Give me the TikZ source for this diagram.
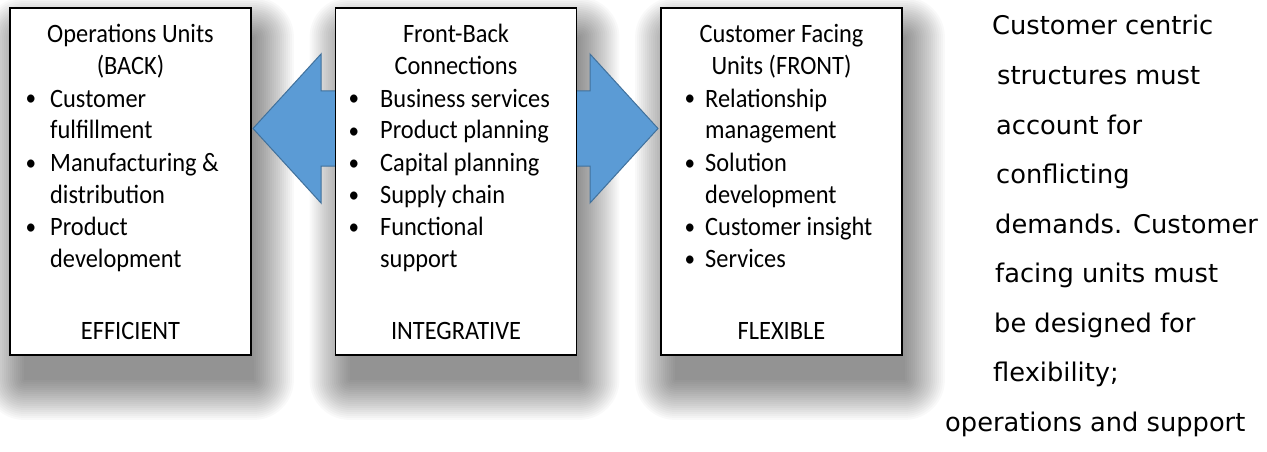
\documentclass[tikz,border=0pt]{standalone}
\usepackage{fontspec}
\setmainfont{Carlito}[FakeStretch=0.92]
\newfontfamily\notefont{DejaVu Sans}
\usetikzlibrary{calc}
\pgfdeclarelayer{paper}
\pgfdeclarelayer{shade}
\pgfdeclarelayer{arrowlayer}
\pgfsetlayers{paper,shade,arrowlayer,main}
\definecolor{arrowfill}{HTML}{5B9BD5}
\definecolor{arrowline}{HTML}{41719C}

\begin{document}
\begin{tikzpicture}[x=1pt,y=-1pt,
  unitbox/.style={draw=black, line width=1.8pt, fill=white, inner sep=0pt,
    minimum width=241pt, minimum height=347pt},
  titletext/.style={font=\fontsize{26.5}{32}\selectfont, anchor=base, inner sep=0pt},
  itemtext/.style={font=\fontsize{26.5}{32}\selectfont, anchor=base west, inner sep=0pt},
  bulletmark/.style={font=\fontsize{23}{32}\selectfont, anchor=base, inner sep=0pt},
  notetext/.style={font=\notefont\fontsize{25.7}{32}\selectfont, anchor=base west, inner sep=0pt},
  bigarrow/.style={fill=arrowfill, draw=arrowline, line width=1pt, line join=miter}]

\useasboundingbox (0,0) rectangle (1267,452);
\begin{pgfonlayer}{paper}
\fill[white] (0,0) rectangle (1267,452);
\end{pgfonlayer}

% the three unit boxes
\node[unitbox] (back)  at (130.5,181.5) {};
\node[unitbox] (link)  at (456,181.5) {};
\node[unitbox] (front) at (781.5,181.5) {};

% soft drop shadows behind the boxes
\begin{pgfonlayer}{shade}
\foreach \b in {back,link,front}{
  \foreach \d in {0,2,...,40}{
    \fill[black, opacity=0.022, rounded corners=\d pt]
      ([shift={(15-\d,30-\d)}]\b.north west) rectangle ([shift={(2+\d,24+\d)}]\b.south east);
  }
}
\end{pgfonlayer}

% double-headed block arrow running behind the middle box
\begin{pgfonlayer}{arrowlayer}
\draw[bigarrow] (253,128.5) -- (321,54) -- (321,91) -- (590,91) -- (590,54)
  -- (658,128.5) -- (590,203) -- (590,166) -- (321,166) -- (321,203) -- cycle;
\end{pgfonlayer}

% Operations Units (BACK)
\node[titletext] (back-h1) at (130.5,43) {Operations Units};
\node[titletext] (back-h2) at (130.5,75) {(BACK)};
\foreach \t [count=\k] in {Customer,fulfillment,Manufacturing \&,distribution,Product,development}
  \node[itemtext] (back-i\k) at ({50},{75+32*\k}) {\t};
\foreach \k in {1,3,5}
  \node[bulletmark] (back-b\k) at ({31},{74+32*\k}) {\textbullet};
\node[titletext] (back-f) at (130.5,339) {EFFICIENT};

% Front-Back Connections
\node[titletext] (link-h1) at (456,43) {Front-Back};
\node[titletext] (link-h2) at (456,75) {Connections};
\foreach \t [count=\k] in {Business services,Product planning,Capital planning,Supply chain,Functional,support}
  \node[itemtext] (link-i\k) at ({380},{75+32*\k}) {\t};
\foreach \k in {1,...,5}
  \node[bulletmark] (link-b\k) at ({354},{74+32*\k}) {\textbullet};
\node[titletext] (link-f) at (456,339) {INTEGRATIVE};

% Customer Facing Units (FRONT)
\node[titletext] (front-h1) at (781.5,43) {Customer Facing};
\node[titletext] (front-h2) at (781.5,75) {Units (FRONT)};
\foreach \t [count=\k] in {Relationship,management,Solution,development,Customer insight,Services}
  \node[itemtext] (front-i\k) at ({705},{75+32*\k}) {\t};
\foreach \k in {1,3,5,6}
  \node[bulletmark] (front-b\k) at ({690},{74+32*\k}) {\textbullet};
\node[titletext] (front-f) at (781.5,339) {FLEXIBLE};

% side note
\node[notetext] (n1) at (992,35)    {Customer centric};
\node[notetext] (n2) at (997,84.5)  {structures must};
\node[notetext] (n3) at (996,134)   {account for};
\node[notetext] (n4) at (996,183.5) {conflicting};
\node[notetext] (n5) at (995,233)   {demands. Customer};
\node[notetext] (n6) at (995,282.5) {facing units must};
\node[notetext] (n7) at (994,332)   {be designed for};
\node[notetext] (n8) at (993,381.5) {flexibility;};
\node[notetext] (n9) at (945,431)   {operations and support};

\end{tikzpicture}
\end{document}
